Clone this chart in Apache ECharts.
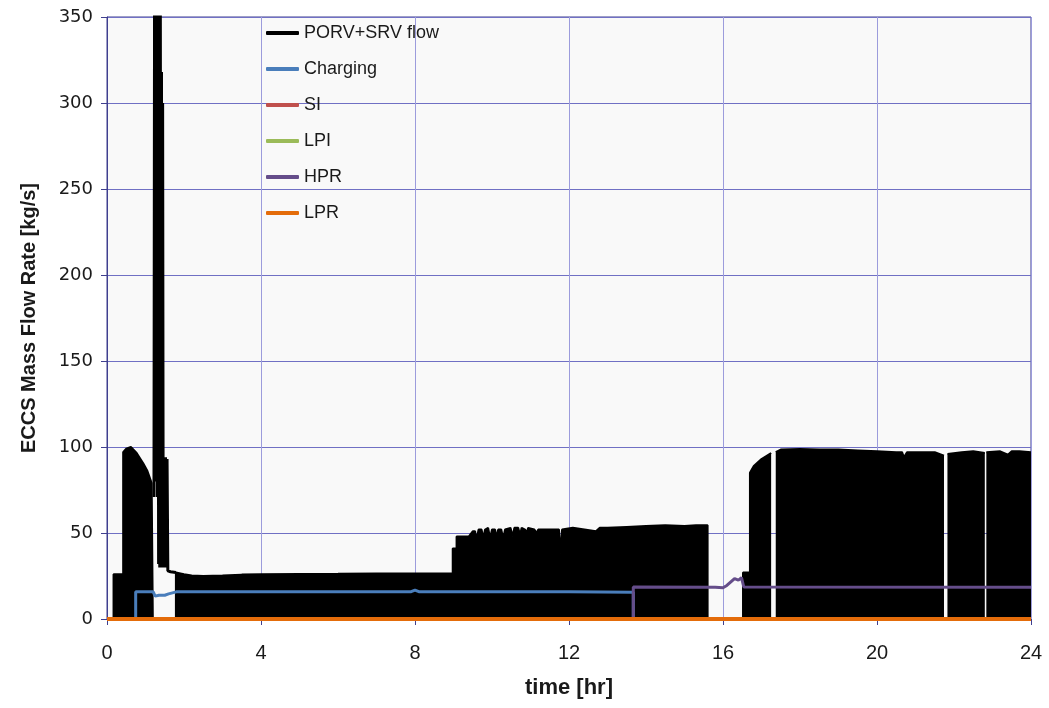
<!DOCTYPE html>
<html>
<head>
<meta charset="utf-8">
<script src="https://cdn.jsdelivr.net/npm/echarts@6/dist/echarts.min.js"></script>
<style>html,body{margin:0;padding:0;background:#fff}#c{width:1049px;height:708px}</style>
</head>
<body>
<div id="c"></div>
<script>
// PORV+SRV flow: upper envelope of the rapidly oscillating flow (drawn filled), [t, null] = gap
const porvFlow = [
  [0.17,0],[0.17,26],[0.42,26],[0.42,97],[0.5,99],[0.62,100],[0.77,96.5],[0.94,90.6],[1.05,86],[1.16,79],[1.19,78],[1.19,0],
  [1.2,null],
  [1.79,0],[1.79,27],[2.0,26],[2.2,25.3],[2.5,25],[3.0,25.3],[3.5,25.8],[4.0,26],[5.0,26.2],[6.0,26.3],[7.0,26.5],[8.0,26.5],
  [8.98,26.5],[8.98,41],[9.08,41],[9.08,48],[9.4,48],[9.5,51],[9.56,51],[9.6,46],[9.65,52],[9.73,52],[9.77,47],[9.82,52],
  [9.9,53],[9.95,47],[10.0,52],[10.08,52],[10.12,47],[10.16,52],[10.24,52],[10.29,47],[10.34,52],[10.48,53],[10.54,48],
  [10.58,53],[10.68,53],[10.73,49],[10.77,53],[10.86,52],[10.9,50],[10.94,53],[11.1,52],[11.16,50],[11.2,52],[11.5,52],
  [11.74,52],[11.78,38],[11.82,52],[12.1,53],[12.4,52],[12.7,51],[12.8,53],[13.0,53],[13.5,53.5],
  [14.0,54],[14.5,54.5],[15.0,54],[15.3,54.5],[15.6,54.5],[15.6,0],
  [15.61,null],
  [16.52,0],[16.52,27],[16.7,27],[16.7,85],[16.8,89],[17.0,93],[17.25,96.5],
  [17.26,null],
  [17.37,97],[17.5,98.5],[18.0,98.8],[18.5,98.5],[19.0,98.5],[19.5,98],[20.0,97.5],[20.5,97],[20.65,97],[20.7,94],
  [20.78,97],[21.2,97],[21.5,97],[21.74,95],
  [21.76,null],
  [21.83,96],[22.2,97],[22.5,97.5],[22.8,96.5],
  [22.81,null],
  [22.84,97],[23.2,97.5],[23.4,95.5],[23.5,97.5],[23.7,97.5],[24.0,97]
];
// PORV+SRV flow: the tall spike after the first hump (line only)
const porvSpike = [
  [1.22,71],[1.235,360],[1.25,100],[1.265,360],[1.28,80],[1.295,360],[1.31,71],[1.325,360],[1.34,32],[1.355,360],
  [1.37,30],[1.385,360],[1.40,30],[1.415,318],[1.43,30],[1.445,300],[1.46,30],[1.48,94],[1.50,30],[1.52,94],
  [1.54,30],[1.56,93],[1.58,28],[1.65,27.5],[1.79,27]
];
// Charging
const charging = [
  [0,0],[0.745,0],[0.745,15.8],[1.2,15.8],[1.25,13.3],[1.3,12.3],[1.35,13.8],[1.4,12.8],[1.5,13.8],[1.6,14.6],[1.8,15.8],
  [4.0,15.9],[7.9,15.9],[8.0,16.8],[8.1,15.9],[12.0,15.8],[13.67,15.6],[13.67,0],[24,0]
];
// HPR
const hpr = [[0,0],[13.67,0],[13.67,18.6],[15.8,18.4],[16.0,18.2],[16.1,19.5],[16.3,23.5],[16.4,22.6],[16.48,24],[16.54,18.6],[24,18.5]];
// SI, LPI, LPR (zero throughout)
const si  = [[0,0],[24,0]];
const lpi = [[0,0],[24,0]];
const lpr = [[0,0],[24,0]];

const seriesNames = ['PORV+SRV flow','Charging','SI','LPI','HPR','LPR'];
const colors = ['#000000','#4a7ebb','#c0504d','#9bbb59','#654d8a','#e46c0a'];

const chart = echarts.init(document.getElementById('c'), null, {renderer:'canvas'});
const txt = '#1a1a1a';
const axisCol = '#3f3f8f';
function ln(name, data, color, width, z) {
  return {name, type:'line', data, symbol:'none', lineStyle:{color, width}, itemStyle:{color}, z};
}
chart.setOption({
  animation: false,
  grid: {left:107, right:18, top:17, bottom:89, show:true, backgroundColor:'#f9f9f9', borderColor:axisCol, borderWidth:1},
  legend: {
    data: seriesNames, orient:'vertical', left:261, top:19, itemWidth:33, itemHeight:4, itemGap:18,
    icon:'roundRect', selectedMode:false,
    textStyle:{fontFamily:'Liberation Sans', fontSize:18, color:txt}
  },
  xAxis: {
    type:'value', min:0, max:24, interval:4,
    name:'time [hr]', nameLocation:'middle', nameGap:58,
    nameTextStyle:{fontFamily:'Liberation Sans', fontWeight:'bold', fontSize:22, color:txt},
    axisLine:{show:true, onZero:false, lineStyle:{color:axisCol, width:1}},
    axisTick:{show:true, inside:false, length:6, lineStyle:{color:axisCol}},
    axisLabel:{margin:24, fontFamily:'Liberation Sans', fontSize:20, color:txt},
    splitLine:{show:true, lineStyle:{color:'#9c9cdc', width:1}}
  },
  yAxis: {
    type:'value', min:0, max:350, interval:50,
    name:'ECCS Mass Flow Rate [kg/s]', nameLocation:'middle', nameGap:68,
    nameTextStyle:{fontFamily:'Liberation Sans', fontWeight:'bold', fontSize:20, color:txt},
    axisLine:{show:true, lineStyle:{color:axisCol, width:1}},
    axisTick:{show:true, inside:false, length:6, lineStyle:{color:axisCol}},
    axisLabel:{margin:14, fontFamily:'DejaVu Sans', fontSize:18, color:txt},
    splitLine:{show:true, lineStyle:{color:'#7070c4', width:1}}
  },
  series: [
    Object.assign(ln(seriesNames[0], porvFlow, colors[0], 2, 2), {connectNulls:false, areaStyle:{color:'#000', opacity:1}}),
    ln(seriesNames[0], porvSpike, colors[0], 3, 2),
    ln(seriesNames[1], charging, colors[1], 3, 3),
    ln(seriesNames[2], si, colors[2], 3, 3),
    ln(seriesNames[3], lpi, colors[3], 3, 3),
    ln(seriesNames[4], hpr, colors[4], 3, 3),
    ln(seriesNames[5], lpr, colors[5], 4, 4)
  ]
});
</script>
</body>
</html>
